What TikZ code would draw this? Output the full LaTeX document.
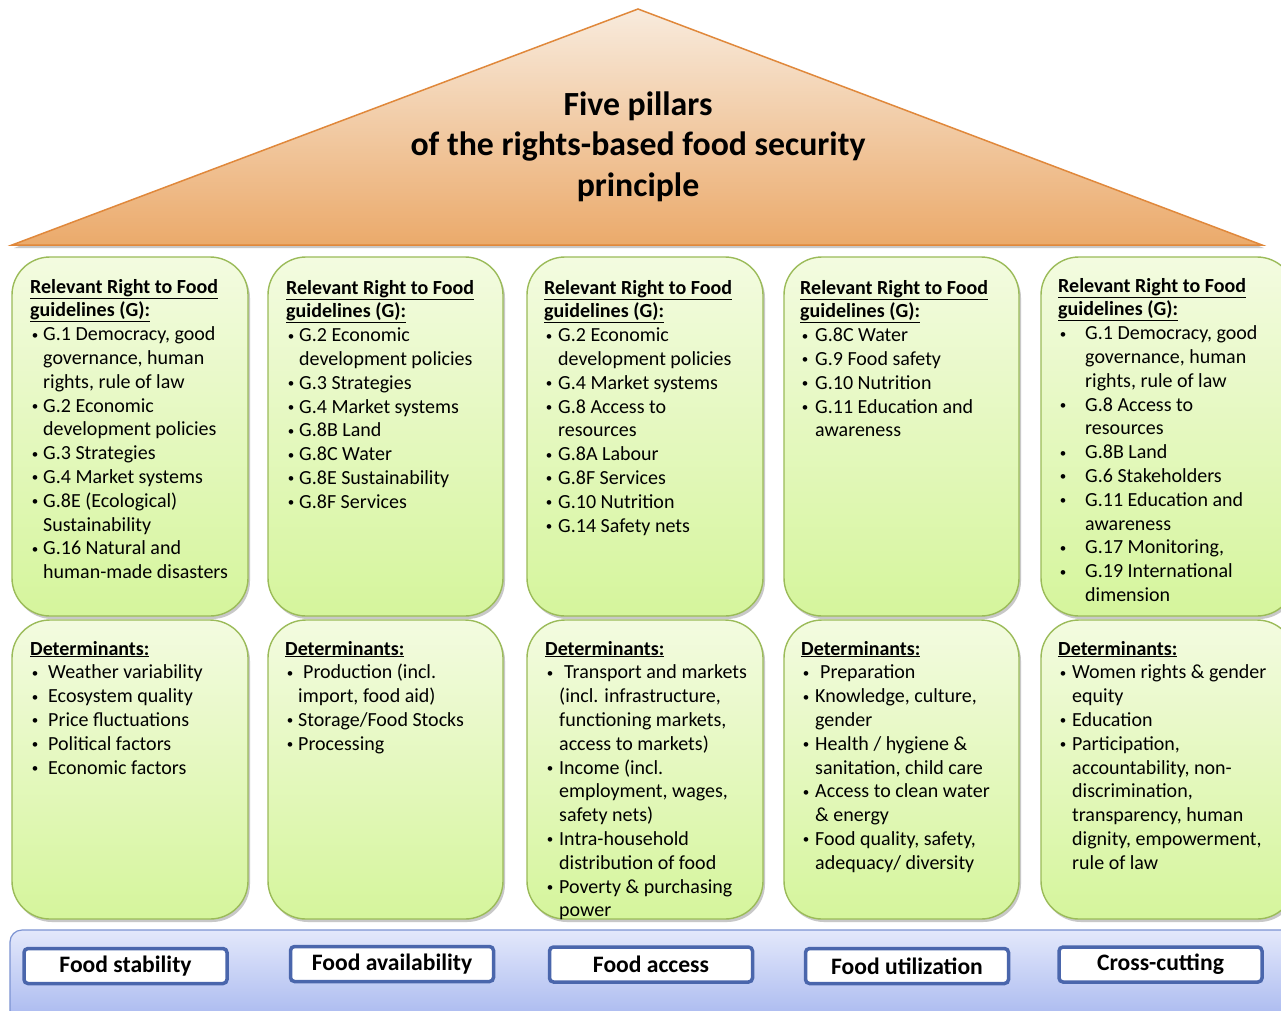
\documentclass[tikz,border=0pt]{standalone}
\usepackage{fontspec}
\setmainfont{Carlito}
\usepackage{tikz}
\usetikzlibrary{shadows}

\definecolor{rooftop}{HTML}{F8EBDD}
\definecolor{roofbot}{HTML}{EBAA6B}
\definecolor{roofline}{HTML}{E0883B}
\definecolor{pillartop}{HTML}{F3FBE0}
\definecolor{pillarbot}{HTML}{D5F59C}
\definecolor{pillarline}{HTML}{9BBB59}
\definecolor{bartop}{HTML}{E3E8FB}
\definecolor{barbot}{HTML}{A3B4EE}
\definecolor{barline}{HTML}{7B92D2}
\definecolor{labelline}{HTML}{4A66AC}

\newcommand{\hd}[1]{\underline{\textbf{#1}}}
\newcommand{\bl}[1][13]{\makebox[#1pt][l]{\makebox[10pt]{\raisebox{1.6pt}{\fontsize{13}{13}\selectfont\textbullet}}}}
\newcommand{\cn}[1][13]{\hspace*{#1pt}}
\newcommand{\pillarlines}[1]{\begin{tabular}[t]{@{}l@{}}#1\end{tabular}}

\tikzset{
  softshadow/.style={drop shadow={shadow xshift=2pt, shadow yshift=-3pt, opacity=0.3, fill=black!70}},
  roof/.style={draw=roofline, line width=1.5pt, top color=rooftop, bottom color=roofbot, softshadow},
  pillar/.style={draw=pillarline, line width=1.4pt, rounded corners=38pt, top color=pillartop, bottom color=pillarbot, softshadow},
  bar/.style={draw=barline, line width=1.2pt, rounded corners=12pt, top color=bartop, bottom color=barbot},
  txt/.style={anchor=base west, inner sep=0pt, font=\fontsize{20}{23.8}\selectfont},
  title/.style={anchor=base, inner sep=0pt, font=\fontsize{33.8}{40.5}\selectfont\bfseries},
  foodlabel/.style={draw=labelline, line width=3.5pt, fill=white, rounded corners=4pt, minimum width=203pt, minimum height=35pt, inner sep=0pt, font=\fontsize{23.6}{28}\selectfont\bfseries}
}

\begin{document}
\begin{tikzpicture}[x=1pt,y=-1pt]
  \useasboundingbox (0,0) rectangle (1281,1010);
  \fill[white] (0,0) rectangle (1281,1010);

  \draw[roof] (12,245) -- (638,9) -- (1262,245) -- cycle;
  \node[title] (head) at (638,115) {\begin{tabular}[t]{@{}c@{}}Five pillars\\ of the rights-based food security\\ principle\end{tabular}};

  \foreach \xa/\xb in {12/248, 268/503, 527/763, 784/1019, 1041/1295} {
    \draw[pillar] (\xa,257) rectangle (\xb,616);
    \draw[pillar] (\xa,620) rectangle (\xb,919);
  }

  \node[txt] (g1) at (30,293) {\pillarlines{
    \hd{Relevant Right to Food}\\ \hd{guidelines (G):}\\
    \bl G.1 Democracy, good\\ \cn governance, human\\ \cn rights, rule of law\\
    \bl G.2 Economic\\ \cn development policies\\
    \bl G.3 Strategies\\
    \bl G.4 Market systems\\
    \bl G.8E (Ecological)\\ \cn Sustainability\\
    \bl G.16 Natural and\\ \cn human-made disasters}};
  \node[txt] (g2) at (286,294) {\pillarlines{
    \hd{Relevant Right to Food}\\ \hd{guidelines (G):}\\
    \bl G.2 Economic\\ \cn development policies\\
    \bl G.3 Strategies\\
    \bl G.4 Market systems\\
    \bl G.8B Land\\
    \bl G.8C Water\\
    \bl G.8E Sustainability\\
    \bl G.8F Services}};
  \node[txt] (g3) at (544,294) {\pillarlines{
    \hd{Relevant Right to Food}\\ \hd{guidelines (G):}\\
    \bl[14]G.2 Economic\\ \cn[14]development policies\\
    \bl[14]G.4 Market systems\\
    \bl[14]G.8 Access to\\ \cn[14]resources\\
    \bl[14]G.8A Labour\\
    \bl[14]G.8F Services\\
    \bl[14]G.10 Nutrition\\
    \bl[14]G.14 Safety nets}};
  \node[txt] (g4) at (800,294) {\pillarlines{
    \hd{Relevant Right to Food}\\ \hd{guidelines (G):}\\
    \bl[15]G.8C Water\\
    \bl[15]G.9 Food safety\\
    \bl[15]G.10 Nutrition\\
    \bl[15]G.11 Education and\\ \cn[15]awareness}};
  \node[txt] (g5) at (1058,292) {\pillarlines{
    \hd{Relevant Right to Food}\\ \hd{guidelines (G):}\\
    \bl[27]G.1 Democracy, good\\ \cn[27]governance, human\\ \cn[27]rights, rule of law\\
    \bl[27]G.8 Access to\\ \cn[27]resources\\
    \bl[27]G.8B Land\\
    \bl[27]G.6 Stakeholders\\
    \bl[27]G.11 Education and\\ \cn[27]awareness\\
    \bl[27]G.17 Monitoring,\\
    \bl[27]G.19 International\\ \cn[27]dimension}};

  \node[txt] (d1) at (30,655) {\pillarlines{
    \hd{Determinants:}\\
    \bl[18]Weather variability\\
    \bl[18]Ecosystem quality\\
    \bl[18]Price fluctuations\\
    \bl[18]Political factors\\
    \bl[18]Economic factors}};
  \node[txt] (d2) at (285,655) {\pillarlines{
    \hd{Determinants:}\\
    \bl[18]Production (incl.\\ \cn import, food aid)\\
    \bl Storage/Food Stocks\\
    \bl Processing}};
  \node[txt] (d3) at (545,655) {\pillarlines{
    \hd{Determinants:}\\
    \bl[19]Transport and markets\\ \cn[14](incl. infrastructure,\\ \cn[14]functioning markets,\\ \cn[14]access to markets)\\
    \bl[14]Income (incl.\\ \cn[14]employment, wages,\\ \cn[14]safety nets)\\
    \bl[14]Intra-household\\ \cn[14]distribution of food\\
    \bl[14]Poverty \& purchasing\\ \cn[14]power}};
  \node[txt] (d4) at (801,655) {\pillarlines{
    \hd{Determinants:}\\
    \bl[19]Preparation\\
    \bl[14]Knowledge, culture,\\ \cn[14]gender\\
    \bl[14]Health / hygiene \&\\ \cn[14]sanitation, child care\\
    \bl[14]Access to clean water\\ \cn[14]\& energy\\
    \bl[14]Food quality, safety,\\ \cn[14]adequacy/ diversity}};
  \node[txt] (d5) at (1058,655) {\pillarlines{
    \hd{Determinants:}\\
    \bl[14]Women rights \& gender\\ \cn[14]equity\\
    \bl[14]Education\\
    \bl[14]Participation,\\ \cn[14]accountability, non-\\ \cn[14]discrimination,\\ \cn[14]transparency, human\\ \cn[14]dignity, empowerment,\\ \cn[14]rule of law}};

  \draw[bar] (10,930) rectangle (1295,1030);
  \node[foodlabel] (l1) at (125.5,966) {Food stability};
  \node[foodlabel] (l2) at (392,964) {Food availability};
  \node[foodlabel] (l3) at (651,964.5) {Food access};
  \node[foodlabel] (l4) at (907,966) {Food utilization};
  \node[foodlabel] (l5) at (1160.5,964.5) {Cross-cutting};
\end{tikzpicture}
\end{document}
